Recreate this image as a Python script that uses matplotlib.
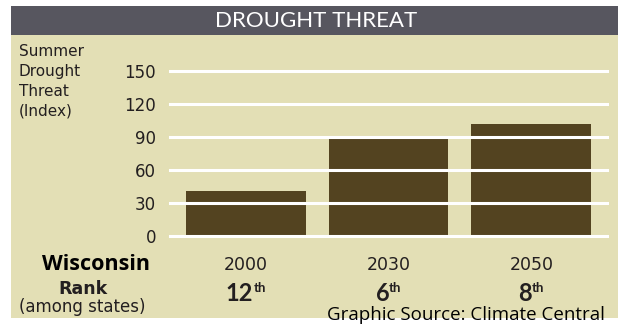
import matplotlib
matplotlib.use("Agg")
import matplotlib.pyplot as plt
from matplotlib.patches import Rectangle

# Data
years = ["2000", "2030", "2050"]
threat_index = [41, 88, 102]
ranks = ["12", "6", "8"]
y_ticks = [0, 30, 60, 90, 120, 150]

W, H = 618, 325
BEIGE = "#e3dfb5"
HEADER = "#57565f"
BAR = "#534320"
TEXT = "#231f20"
GEO = "DejaVu Sans"
HUM = "Lato"
SRC = "Open Sans"

fig = plt.figure(figsize=(W / 100, H / 100), dpi=100)
fig.patch.set_facecolor("white")

# Full-figure background axes in pixel coordinates (origin top-left)
bg = fig.add_axes([0, 0, 1, 1], zorder=0)
bg.set_xlim(0, W)
bg.set_ylim(H, 0)
bg.axis("off")
bg.add_patch(Rectangle((11, 35), W - 11, 318 - 35, facecolor=BEIGE, edgecolor="none"))
bg.add_patch(Rectangle((11, 6), W - 11, 35 - 6, facecolor=HEADER, edgecolor="none"))
bg.text(316, 21, "DROUGHT THREAT", color="white", fontsize=16, family=HUM,
        ha="center", va="center")

# Chart axes
left, right, top, bottom = 170, 607, 71, 236
ax = fig.add_axes([left / W, 1 - bottom / H, (right - left) / W, (bottom - top) / H],
                  zorder=1)
ax.set_facecolor("none")
for s in ax.spines.values():
    s.set_visible(False)

xs = list(range(len(years)))
ax.bar(xs, threat_index, width=0.84, color=BAR, zorder=1)
for t in y_ticks:
    ax.axhline(t, color="white", lw=2.2, zorder=2, clip_on=False)

ax.set_xlim(-0.53, 2.53)
ax.set_ylim(0, 150)
ax.set_yticks(y_ticks)
ax.set_yticklabels([str(t) for t in y_ticks], family=GEO, fontsize=12, color=TEXT)
ax.tick_params(axis="y", length=0, pad=10)
ax.set_xticks([])

# Axis title
for i, line in enumerate(["Summer", "Drought", "Threat", "(Index)"]):
    bg.text(19, 56 + 20 * i, line, fontsize=11, family=GEO,
            color=TEXT, ha="left", va="baseline")

# Year and rank labels under the bars
renderer = fig.canvas.get_renderer()
for i, (yr, rk) in enumerate(zip(years, ranks)):
    xp = ax.transData.transform((i, 0))[0] * W / fig.bbox.width
    bg.text(xp, 270, yr, fontsize=12.5, family=GEO, color=TEXT,
            ha="center", va="baseline")
    num = bg.text(0, 301, rk, fontsize=17, family=HUM, weight="bold",
                  color=TEXT, ha="left", va="baseline")
    sup = bg.text(0, 292, "th", fontsize=9.5, family=HUM, weight="bold",
                  color=TEXT, ha="left", va="baseline")
    wn = num.get_window_extent(renderer).width * W / fig.bbox.width
    ws = sup.get_window_extent(renderer).width * W / fig.bbox.width
    gap = 0
    x0 = xp - (wn + gap + ws) / 2
    num.set_x(x0)
    sup.set_x(x0 + wn + gap)

bg.text(96, 270, "Wisconsin", fontsize=15.5, family=SRC, weight="bold",
        color="black", ha="center", va="baseline")
bg.text(83, 293.5, "Rank", fontsize=12.5, family=GEO, weight="bold",
        color=TEXT, ha="center", va="baseline")
bg.text(82, 312, "(among states)", fontsize=12, family=GEO,
        color=TEXT, ha="center", va="baseline")
bg.text(466, 320, "Graphic Source: Climate Central", fontsize=13.5,
        family=SRC, color="black", ha="center", va="baseline")

fig.savefig("out.png", dpi=100, facecolor="white")
